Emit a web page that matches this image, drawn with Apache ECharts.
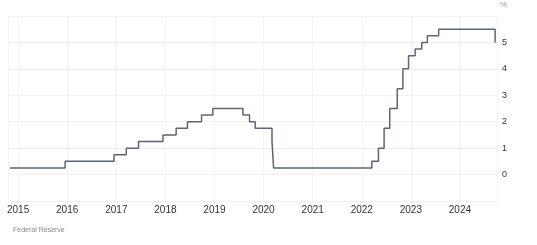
<!DOCTYPE html>
<html>
<head>
<meta charset="utf-8">
<script src="https://cdn.jsdelivr.net/npm/echarts@6/dist/echarts.min.js"></script>
<style>
  html, body { margin: 0; padding: 0; background: #fff; }
  #chart { width: 537px; height: 245px; }
</style>
</head>
<body>
<div id="chart"></div>
<script>
// fed funds target, upper bound (%), step changes
var dates = ['2014-11-01', '2015-12-17', '2016-12-15', '2017-03-16', '2017-06-15', '2017-12-14',
    '2018-03-22', '2018-06-14', '2018-09-27', '2018-12-20', '2019-08-01', '2019-09-19',
    '2019-10-31', '2020-03-04', '2020-03-16', '2022-03-17', '2022-05-05', '2022-06-16',
    '2022-07-28', '2022-09-22', '2022-11-03', '2022-12-15', '2023-02-02', '2023-03-23',
    '2023-05-04', '2023-07-27', '2024-09-19', '2024-09-22'];
var rates = [0.25, 0.5, 0.75, 1.0, 1.25, 1.5,
    1.75, 2.0, 2.25, 2.5, 2.25, 2.0,
    1.75, 1.25, 0.25, 0.5, 1.0, 1.75,
    2.5, 3.25, 4.0, 4.5, 4.75, 5.0,
    5.25, 5.5, 5.0, 5.0];
var yTicks = ['0', '1', '2', '3', '4', '5'];

var myChart = echarts.init(document.getElementById('chart'));

var points = dates.map(function (d, i) { return [d, rates[i]]; });

var option = {
    animation: false,
    grid: { left: 8, right: 40, top: 16, bottom: 44, outerBoundsMode: 'none', containLabel: false },
    graphic: [
        {
            type: 'text', left: 13, top: 227,
            style: { text: 'Federal Reserve', fill: '#8a8a8a', font: '7px "Liberation Sans", Arial, sans-serif' }
        },
        {
            type: 'text', left: 500, top: 1,
            style: { text: '%', fill: '#9a9a9a', font: '8px "Liberation Sans", Arial, sans-serif' }
        }
    ],
    xAxis: {
        type: 'time',
        min: '2014-10-18',
        max: '2024-10-03',
        splitNumber: 10,
        axisLine: { show: false },
        axisTick: { show: false },
        splitLine: { show: true, lineStyle: { color: '#f3f3f3', width: 1 } },
        axisLabel: {
            formatter: '{yyyy}',
            color: '#333',
            fontSize: 10,
            fontFamily: 'Liberation Sans, Arial, sans-serif',
            margin: 4,
            showMinLabel: false,
            showMaxLabel: false
        }
    },
    yAxis: {
        type: 'value',
        position: 'right',
        min: -1,
        max: 6,
        interval: 1,
        axisLine: { show: false },
        axisTick: { show: false },
        splitLine: { lineStyle: { color: '#f0f0f0', width: 1 } },
        axisLabel: {
            color: '#333',
            fontSize: 9,
            fontFamily: 'Liberation Sans, Arial, sans-serif',
            margin: 5,
            formatter: function (v) {
                return yTicks.indexOf(String(v)) >= 0 ? String(v) : '';
            }
        }
    },
    series: [{
        type: 'line',
        step: 'end',
        data: points,
        symbol: 'none',
        lineStyle: { color: '#5d6674', width: 1.5 }
    }]
};

option && myChart.setOption(option);
</script>
</body>
</html>
